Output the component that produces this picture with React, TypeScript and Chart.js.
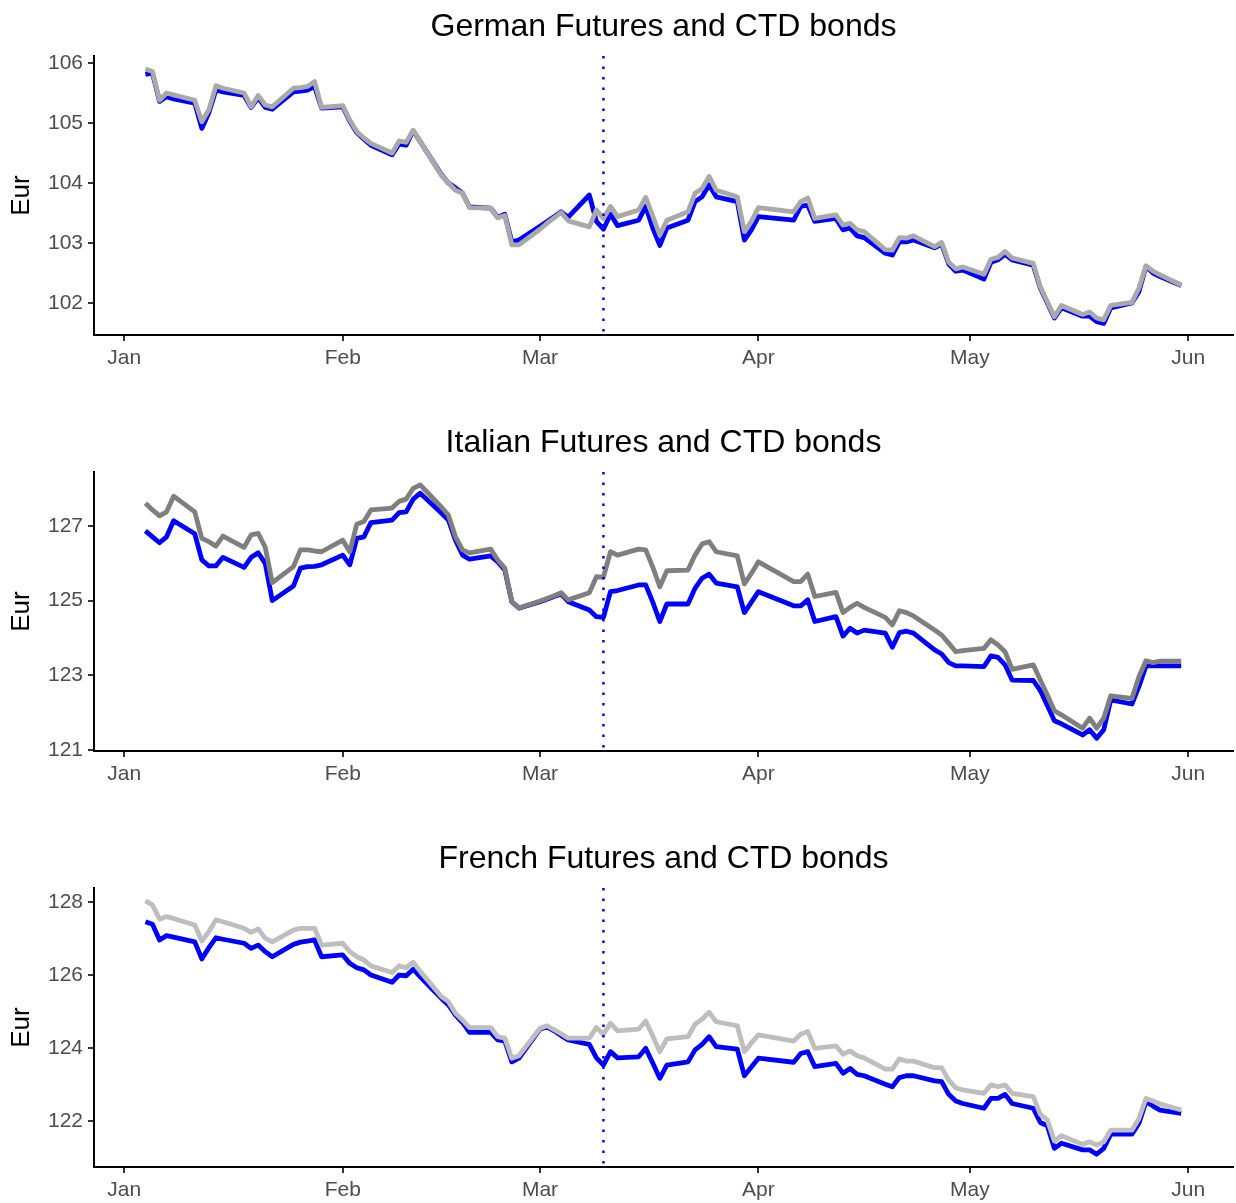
import React, { useEffect, useRef } from "react";
import { Chart, registerables } from "chart.js";

Chart.register(...registerables);

// ---------- DATA ----------
const dates = [
  "2021-01-04","2021-01-05","2021-01-06","2021-01-07","2021-01-08",
  "2021-01-11","2021-01-12","2021-01-13","2021-01-14","2021-01-15",
  "2021-01-18","2021-01-19","2021-01-20","2021-01-21","2021-01-22",
  "2021-01-25","2021-01-26","2021-01-27","2021-01-28","2021-01-29",
  "2021-02-01","2021-02-02","2021-02-03","2021-02-04","2021-02-05",
  "2021-02-08","2021-02-09","2021-02-10","2021-02-11","2021-02-12",
  "2021-02-15","2021-02-16","2021-02-17","2021-02-18","2021-02-19",
  "2021-02-22","2021-02-23","2021-02-24","2021-02-25","2021-02-26",
  "2021-03-01","2021-03-02","2021-03-03","2021-03-04","2021-03-05",
  "2021-03-08","2021-03-09","2021-03-10","2021-03-11","2021-03-12",
  "2021-03-15","2021-03-16","2021-03-17","2021-03-18","2021-03-19",
  "2021-03-22","2021-03-23","2021-03-24","2021-03-25","2021-03-26",
  "2021-03-29","2021-03-30","2021-03-31","2021-04-01",
  "2021-04-06","2021-04-07","2021-04-08","2021-04-09",
  "2021-04-12","2021-04-13","2021-04-14","2021-04-15","2021-04-16",
  "2021-04-19","2021-04-20","2021-04-21","2021-04-22","2021-04-23",
  "2021-04-26","2021-04-27","2021-04-28","2021-04-29","2021-04-30",
  "2021-05-03","2021-05-04","2021-05-05","2021-05-06","2021-05-07",
  "2021-05-10","2021-05-11","2021-05-12","2021-05-13","2021-05-14",
  "2021-05-17","2021-05-18","2021-05-19","2021-05-20","2021-05-21",
  "2021-05-24","2021-05-25","2021-05-26","2021-05-27","2021-05-28",
  "2021-05-31",
];

const germanCTD = [
  105.90,105.86,105.38,105.50,105.47, 105.38,105.02,105.22,105.62,105.58,
  105.50,105.27,105.46,105.30,105.27, 105.58,105.59,105.61,105.69,105.26,
  105.29,105.05,104.86,104.75,104.66, 104.50,104.70,104.68,104.88,104.69,
  104.13,104.00,103.88,103.83,103.59, 103.58,103.42,103.46,102.97,102.97,
  103.23,103.33,103.42,103.51,103.37, 103.27,103.55,103.41,103.61,103.44,
  103.55,103.76,103.45,103.13,103.38, 103.52,103.83,103.91,104.11,103.88,
  103.77,103.19,103.36,103.59, 103.52,103.69,103.75,103.41,
  103.47,103.30,103.33,103.22,103.19, 102.89,102.88,103.09,103.08,103.12,
  102.94,103.01,102.68,102.57,102.60, 102.48,102.73,102.76,102.86,102.75,
  102.66,102.27,102.02,101.77,101.96, 101.81,101.85,101.75,101.72,101.96,
  102.01,102.25,102.62,102.53,102.47, 102.30,
];
const germanFuture = [
  105.81,105.83,105.36,105.44,105.40, 105.33,104.91,105.17,105.55,105.52,
  105.46,105.26,105.42,105.26,105.23, 105.52,105.53,105.55,105.61,105.25,
  105.27,105.03,104.84,104.73,104.63, 104.47,104.65,104.63,104.87,104.69,
  104.14,104.00,103.92,103.83,103.60, 103.58,103.43,103.48,103.02,103.05,
  103.28,103.36,103.44,103.52,103.43, 103.80,103.36,103.23,103.48,103.29,
  103.38,103.61,103.25,102.96,103.25, 103.38,103.69,103.77,103.97,103.77,
  103.69,103.05,103.22,103.44, 103.38,103.61,103.63,103.36,
  103.41,103.22,103.25,103.12,103.09, 102.83,102.80,103.02,103.02,103.05,
  102.92,102.98,102.65,102.53,102.55, 102.40,102.68,102.72,102.81,102.72,
  102.63,102.25,102.00,101.75,101.92, 101.78,101.78,101.69,101.66,101.92,
  102.00,102.19,102.61,102.50,102.44, 102.29,
];

const italianCTD = [
  127.61,127.43,127.27,127.38,127.80, 127.38,126.67,126.58,126.46,126.73,
  126.43,126.76,126.80,126.43,125.48, 125.91,126.36,126.36,126.33,126.31,
  126.62,126.31,127.05,127.12,127.43, 127.48,127.66,127.72,128.01,128.10,
  127.51,127.29,126.71,126.36,126.28, 126.38,126.09,125.87,124.97,124.80,
  124.99,125.06,125.13,125.21,125.02, 125.21,125.64,125.63,126.31,126.22,
  126.38,126.36,125.90,125.37,125.80, 125.82,126.22,126.52,126.58,126.31,
  126.20,125.45,125.73,126.04, 125.51,125.51,125.71,125.11,
  125.22,124.68,124.82,124.93,124.82, 124.55,124.35,124.73,124.68,124.59,
  124.21,124.08,123.86,123.63,123.66, 123.72,123.95,123.81,123.63,123.16,
  123.28,122.87,122.47,122.05,121.94, 121.58,121.85,121.58,121.85,122.45,
  122.38,122.96,123.39,123.34,123.38, 123.38,
];
const italianFuture = [
  126.87,126.71,126.55,126.71,127.14, 126.79,126.09,125.93,125.93,126.16,
  125.89,126.16,126.28,126.00,125.00, 125.39,125.87,125.91,125.92,125.96,
  126.22,125.96,126.67,126.71,127.09, 127.16,127.36,127.38,127.72,127.88,
  127.35,127.16,126.62,126.22,126.11, 126.20,126.04,125.82,124.97,124.80,
  124.97,125.04,125.11,125.18,124.97, 124.75,124.57,124.55,125.24,125.27,
  125.42,125.42,124.96,124.44,124.91, 124.91,125.33,125.60,125.71,125.47,
  125.37,124.68,124.96,125.24, 124.86,124.86,125.02,124.44,
  124.57,124.05,124.26,124.13,124.21, 124.13,123.75,124.14,124.18,124.13,
  123.68,123.57,123.34,123.25,123.25, 123.23,123.52,123.48,123.28,122.87,
  122.86,122.59,122.19,121.78,121.70, 121.40,121.54,121.31,121.54,122.34,
  122.23,122.70,123.25,123.25,123.25, 123.25,
];

const frenchCTD = [
  128.03,127.92,127.53,127.60,127.55, 127.37,126.93,127.19,127.51,127.46,
  127.28,127.17,127.26,127.01,126.91, 127.23,127.28,127.28,127.28,126.82,
  126.87,126.64,126.50,126.41,126.25, 126.07,126.25,126.20,126.35,126.10,
  125.41,125.27,124.95,124.77,124.56, 124.56,124.31,124.27,123.72,123.79,
  124.54,124.61,124.50,124.39,124.27, 124.27,124.56,124.38,124.68,124.47,
  124.52,124.74,124.33,123.90,124.25, 124.31,124.65,124.79,124.98,124.72,
  124.61,123.90,124.14,124.36, 124.19,124.38,124.45,123.99,
  124.06,123.83,123.92,123.79,123.73, 123.42,123.42,123.70,123.64,123.64,
  123.46,123.46,123.12,122.91,122.85, 122.76,122.99,122.94,122.99,122.76,
  122.67,122.18,122.03,121.45,121.60, 121.36,121.43,121.34,121.43,121.75,
  121.75,122.07,122.62,122.55,122.47, 122.30,
];
const frenchFuture = [
  127.46,127.39,126.96,127.08,127.04, 126.91,126.44,126.75,127.02,126.98,
  126.87,126.73,126.82,126.64,126.50, 126.84,126.90,126.93,126.96,126.50,
  126.55,126.32,126.20,126.14,126.00, 125.80,126.00,125.98,126.16,125.95,
  125.36,125.18,124.90,124.70,124.43, 124.43,124.22,124.19,123.62,123.72,
  124.52,124.58,124.47,124.34,124.22, 124.10,123.73,123.53,123.90,123.73,
  123.76,123.99,123.59,123.17,123.53, 123.62,123.95,124.10,124.31,124.04,
  123.97,123.24,123.48,123.72, 123.61,123.85,123.90,123.49,
  123.58,123.31,123.44,123.28,123.24, 123.01,122.94,123.19,123.24,123.24,
  123.10,123.08,122.73,122.55,122.48, 122.35,122.62,122.62,122.73,122.48,
  122.35,121.96,121.87,121.25,121.39, 121.21,121.21,121.09,121.25,121.64,
  121.64,121.94,122.53,122.41,122.30, 122.21,
];

const monthTickDates = ["2021-01-01","2021-02-01","2021-03-01","2021-04-01","2021-05-01","2021-06-01"];
const monthTickLabels = ["Jan","Feb","Mar","Apr","May","Jun"];
const eventDate = "2021-03-10";

const germanYTicks = [102, 103, 104, 105, 106];
const italianYTicks = [121, 123, 125, 127];
const frenchYTicks = [122, 124, 126, 128];

const titles = ["German Futures and CTD bonds", "Italian Futures and CTD bonds", "French Futures and CTD bonds"];

// ---------- helpers ----------
const BASE = Date.UTC(2021, 0, 1);
function toDay(s: string): number {
  const [y, m, d] = s.split("-").map(Number);
  return (Date.UTC(y, m - 1, d) - BASE) / 86400000;
}

const FONT = '"Liberation Sans", Arial, Helvetica, sans-serif';
const PANEL_H = 416;

type PanelCfg = {
  title: string;
  future: number[];
  ctd: number[];
  ctdColor: string;
  yTicks: number[];
  yMin: number;
  yMax: number;
  top: number;
};

const panels: PanelCfg[] = [
  { title: titles[0], future: germanFuture, ctd: germanCTD, ctdColor: "#a9a9a9", yTicks: germanYTicks, yMin: 101.467, yMax: 106.117, top: 0 },
  { title: titles[1], future: italianFuture, ctd: italianCTD, ctdColor: "#7f7f7f", yTicks: italianYTicks, yMin: 120.97, yMax: 128.447, top: PANEL_H },
  { title: titles[2], future: frenchFuture, ctd: frenchCTD, ctdColor: "#bebebe", yTicks: frenchYTicks, yMin: 120.74, yMax: 128.384, top: PANEL_H * 2 },
];

function Panel({ cfg }: { cfg: PanelCfg }) {
  const ref = useRef<HTMLCanvasElement | null>(null);
  useEffect(() => {
    const days = dates.map(toDay);
    const monthDays = monthTickDates.map(toDay);
    const eventDay = toDay(eventDate);

    const decor = {
      id: "decor",
      afterDatasetsDraw(chart: any) {
        const { ctx, chartArea, scales } = chart;
        const x = scales.x.getPixelForValue(eventDay);
        ctx.save();
        ctx.strokeStyle = "#0000ff";
        ctx.lineWidth = 2.5;
        ctx.setLineDash([2.5, 8]);
        ctx.beginPath();
        ctx.moveTo(x, chartArea.top);
        ctx.lineTo(x, chartArea.bottom);
        ctx.stroke();
        ctx.restore();
      },
      afterDraw(chart: any) {
        const { ctx, chartArea } = chart;
        ctx.save();
        ctx.fillStyle = "#000";
        ctx.font = `32px ${FONT}`;
        ctx.textAlign = "center";
        ctx.textBaseline = "middle";
        ctx.fillText(cfg.title, (chartArea.left + chartArea.right) / 2, 27);
        ctx.translate(22, (chartArea.top + chartArea.bottom) / 2);
        ctx.rotate(-Math.PI / 2);
        ctx.font = `26px ${FONT}`;
        ctx.fillText("Eur", 0, 0);
        ctx.restore();
      },
    };

    const chart = new Chart(ref.current as HTMLCanvasElement, {
      type: "line",
      data: {
        datasets: [
          {
            label: "CTD",
            data: days.map((d, i) => ({ x: d, y: cfg.ctd[i] })),
            borderColor: cfg.ctdColor,
            borderWidth: 4.8,
            pointRadius: 0,
            tension: 0,
            borderJoinStyle: "round",
            fill: false,
          },
          {
            label: "Future",
            data: days.map((d, i) => ({ x: d, y: cfg.future[i] })),
            borderColor: "#0000ff",
            borderWidth: 4.8,
            pointRadius: 0,
            tension: 0,
            borderJoinStyle: "round",
            fill: false,
          },
        ],
      },
      options: {
        animation: false,
        responsive: false,
        maintainAspectRatio: false,
        events: [],
        layout: { padding: { top: 56, right: 3, left: 0, bottom: 0 } },
        plugins: { legend: { display: false }, tooltip: { enabled: false }, title: { display: false } },
        scales: {
          x: {
            type: "linear",
            min: -4.3,
            max: 157.35,
            afterBuildTicks: (s: any) => {
              s.ticks = monthDays.map((v) => ({ value: v }));
            },
            afterFit: (s: any) => {
              s.height = PANEL_H - 335;
            },
            ticks: {
              autoSkip: false,
              maxRotation: 0,
              padding: 5,
              color: "#4d4d4d",
              font: { family: FONT, size: 21 },
              callback: (v: any) => {
                const i = monthDays.indexOf(Number(v));
                return i >= 0 ? monthTickLabels[i] : "";
              },
            },
            grid: { drawOnChartArea: false, drawTicks: true, tickLength: 6, color: "#333333", lineWidth: 2 },
            border: { display: true, color: "#000000", width: 2 },
          },
          y: {
            type: "linear",
            min: cfg.yMin,
            max: cfg.yMax,
            afterBuildTicks: (s: any) => {
              s.ticks = cfg.yTicks.map((v) => ({ value: v }));
            },
            afterFit: (s: any) => {
              s.width = 94;
            },
            ticks: {
              padding: 5,
              color: "#4d4d4d",
              font: { family: FONT, size: 21 },
              callback: (v: any) => String(v),
            },
            grid: { drawOnChartArea: false, drawTicks: true, tickLength: 6, color: "#333333", lineWidth: 2 },
            border: { display: true, color: "#000000", width: 2 },
          },
        },
      } as any,
      plugins: [decor],
    });
    return () => chart.destroy();
  }, [cfg]);
  return (
    <canvas
      ref={ref}
      width={1236}
      height={PANEL_H}
      style={{ position: "absolute", left: 0, top: cfg.top, width: 1236, height: PANEL_H }}
    />
  );
}

export default function App() {
  return (
    <div style={{ position: "absolute", left: 0, top: 0, width: 1236, height: 1203, overflow: "hidden", background: "#ffffff" }}>
      {panels.map((p) => (
        <Panel key={p.title} cfg={p} />
      ))}
    </div>
  );
}
